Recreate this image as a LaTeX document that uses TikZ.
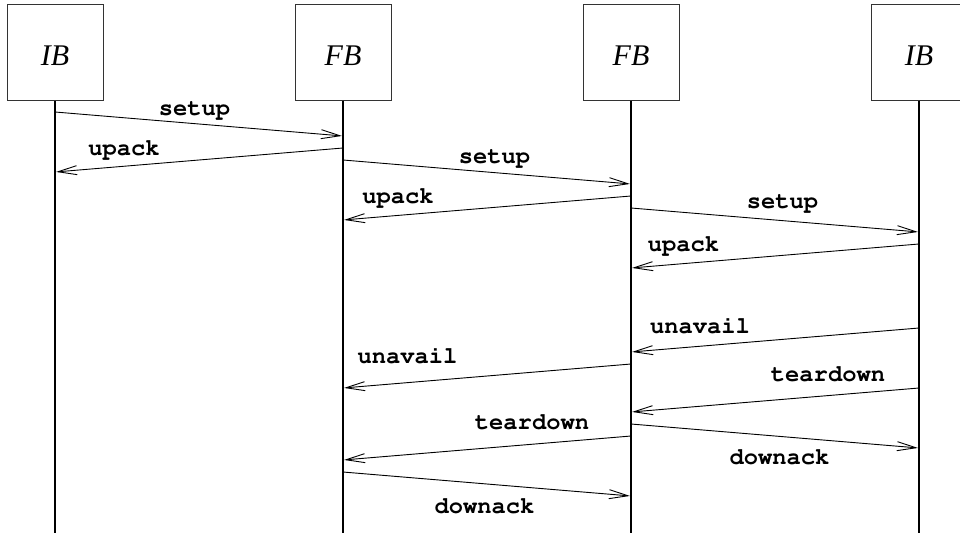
\documentclass[tikz,border=0pt]{standalone}
\usepackage[T1]{fontenc}
\usepackage{fontspec}
\setmainfont{Liberation Serif}
\newcommand{\msgfontsel}{\fontencoding{T1}\fontfamily{pcr}\fontseries{b}\selectfont}
\usetikzlibrary{arrows.meta}
\begin{document}
\begin{tikzpicture}[x=1pt,y=-1pt,
  entity/.style={draw=black!80,line width=1pt,minimum width=96pt,minimum height=96pt,inner sep=0pt,
    font=\fontsize{30}{32}\selectfont\itshape,text height=26pt,text depth=0pt},
  life/.style={line width=2pt},
  msg/.style={line width=0.9pt,-{Straight Barb[length=19pt,width=9pt,line width=0.9pt]},shorten >=1pt},
  msglabel/.style={anchor=base,inner sep=0pt,font=\fontsize{23.8}{26}\msgfontsel}]
\useasboundingbox (0,0) rectangle (960,533);
\node[entity] (A) at (55,52) {IB};
\node[entity] (B) at (343,52) {FB};
\node[entity] (C) at (631,52) {FB};
\node[entity] (D) at (919,52) {IB};
\coordinate (Aend) at (55,533);
\coordinate (Bend) at (343,533);
\coordinate (Cend) at (631,533);
\coordinate (Dend) at (919,533);
\draw[life] (A.south) -- (Aend);
\draw[life] (B.south) -- (Bend);
\draw[life] (C.south) -- (Cend);
\draw[life] (D.south) -- (Dend);
% messages
\draw[msg] (A |- 0,112) -- (B |- 0,136);
\node[msglabel] (l1) at (194.5,115) {setup};
\draw[msg] (B |- 0,148) -- (A |- 0,172);
\node[msglabel] (l2) at (124,155) {upack};
\draw[msg] (B |- 0,160) -- (C |- 0,184);
\node[msglabel] (l3) at (494.5,163) {setup};
\draw[msg] (C |- 0,196) -- (B |- 0,220);
\node[msglabel] (l4) at (398,203) {upack};
\draw[msg] (C |- 0,208) -- (D |- 0,232);
\node[msglabel] (l5) at (782.5,208) {setup};
\draw[msg] (D |- 0,244) -- (C |- 0,268);
\node[msglabel] (l6) at (683.5,251) {upack};
\draw[msg] (D |- 0,328) -- (C |- 0,352);
\node[msglabel] (l7) at (700,333) {unavail};
\draw[msg] (C |- 0,364) -- (B |- 0,388);
\node[msglabel] (l8) at (407.5,363) {unavail};
\draw[msg] (D |- 0,388) -- (C |- 0,412);
\node[msglabel] (l9) at (828,381) {teardown};
\draw[msg] (C |- 0,436) -- (B |- 0,460);
\node[msglabel] (l10) at (532,429) {teardown};
\draw[msg] (C |- 0,424) -- (D |- 0,448);
\node[msglabel] (l11) at (779.5,464) {downack};
\draw[msg] (B |- 0,472) -- (C |- 0,496);
\node[msglabel] (l12) at (484.5,513) {downack};
\end{tikzpicture}
\end{document}
